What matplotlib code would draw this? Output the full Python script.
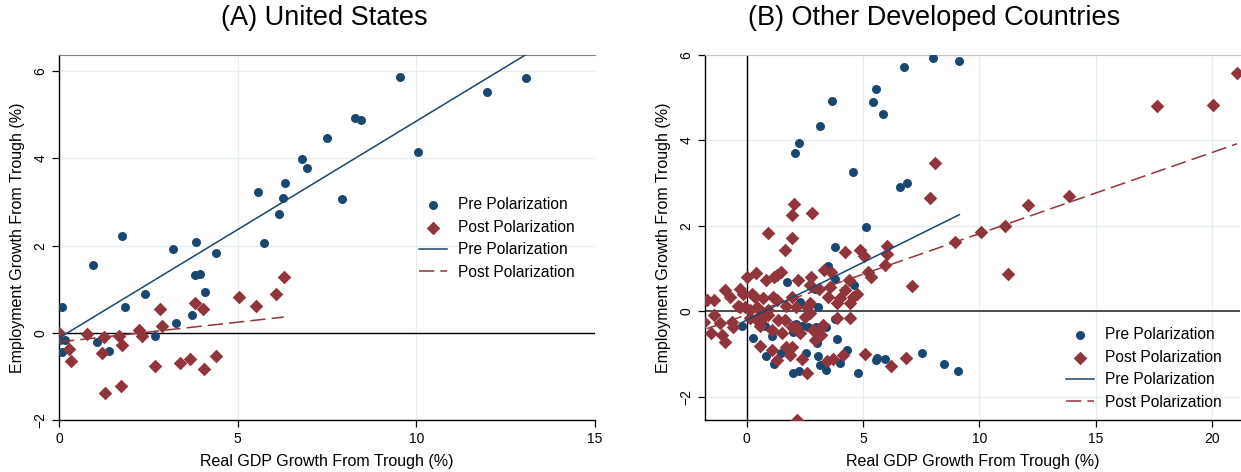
import numpy as np
import matplotlib
matplotlib.use("Agg")
import matplotlib.pyplot as plt

plt.rcParams['font.family'] = ['Liberation Sans', 'DejaVu Sans']

# ========== data ==========
# (A) United States
us_pre_x = [0.08, 0.02, 0.18, 0.08, 0.94, 1.05, 1.40, 1.76, 1.84, 2.42, 2.69, 3.18, 3.28,
            3.71, 3.82, 3.80, 3.95, 4.09, 4.39, 5.56, 5.74, 6.16, 6.27, 6.32, 6.80, 6.95,
            7.49, 7.91, 8.29, 8.46, 9.54, 10.05, 11.97, 13.07]
us_pre_y = [0.58, -0.17, -0.17, -0.44, 1.55, -0.22, -0.41, 2.23, 0.60, 0.90, -0.08, 1.92, 0.23,
            0.40, 2.08, 1.33, 1.35, 0.93, 1.84, 3.23, 2.07, 2.73, 3.08, 3.43, 3.98, 3.79,
            4.46, 3.06, 4.93, 4.88, 5.86, 4.14, 5.52, 5.85]
us_post_x = [0.0, 0.28, 0.33, 0.77, 1.19, 1.26, 1.30, 1.69, 1.75, 1.74, 2.24, 2.31, 2.69,
             2.84, 2.88, 3.39, 3.66, 3.80, 4.02, 4.05, 4.40, 5.03, 5.52, 6.07, 6.29]
us_post_y = [0.0, -0.37, -0.65, -0.03, -0.46, -0.10, -1.38, -0.08, -0.27, -1.22, 0.07, -0.07, -0.76,
             0.54, 0.15, -0.69, -0.61, 0.69, 0.54, -0.84, -0.53, 0.83, 0.61, 0.89, 1.28]
us_pre_fit_x = [0.0, 13.07]
us_pre_fit_y = [-0.12, 6.38]
us_post_fit_x = [0.0, 6.29]
us_post_fit_y = [-0.21, 0.36]

# (B) Other Developed Countries
oc_pre_x = [8.0, 6.74, 5.54, 5.44, 3.67, 5.88, 3.17, 2.26, 2.07, 4.56, 6.91, 6.61, 5.11,
            3.81, 3.50, 3.78, 4.63, 1.74, 3.07, 2.28, 2.93, -0.19, 0.26, 0.78, 1.10, 0.84,
            1.16, 1.48, 2.00, 1.93, 2.00, 2.24, 2.57, 2.37, 2.64, 3.04, 3.07, 3.14, 3.40,
            3.43, 3.88, 4.00, 4.31, 4.80, 5.57, 5.62, 5.94, 7.54, 8.46, 9.14, 9.07, 2.14,
            3.78, 3.00, 1.86]
oc_pre_y = [5.94, 5.71, 5.20, 4.91, 4.92, 4.61, 4.33, 3.93, 3.70, 3.26, 3.00, 2.90, 1.97,
            1.51, 1.06, 0.76, 0.61, 0.68, 0.10, 0.21, 0.53, -0.34, -0.62, -0.35, -0.58, -1.04,
            -1.23, -0.97, -0.48, -0.34, -1.44, -1.41, -0.99, -0.34, -0.37, -0.74, -1.04, -1.26, -0.37,
            -1.37, -0.66, -1.21, -0.91, -1.44, -1.15, -1.10, -1.11, -0.97, -1.24, 5.86, -1.40, -0.29,
            -0.19, -0.37, -1.03]
oc_post_x = [8.10, 7.90, 2.04, 1.93, 2.81, 0.93, 1.95, 1.64, 4.24, 4.86, 5.03, 6.03, 6.04,
             5.96, 7.11, 3.31, 3.64, 5.21, 5.36, 4.38, 3.57, 2.77, 2.74, 2.21, 0.40, 0.00,
             0.83, 1.18, 1.46, 1.29, -0.93, -1.71, -1.40, -0.72, -0.29, -0.14, 0.21, 0.36,
             0.71, 1.14, 1.29, -0.36, -0.07, 0.14, 0.43, 0.64, 0.93, 1.68, 1.97, 2.14, 2.60,
             2.71, 3.11, 3.50, 3.90, 4.00, 4.21, 4.43, 4.57, 4.74, -1.82, -1.54, -1.40, -1.14,
             -1.07, -0.93, -0.64, -0.57, -0.29, 0.14, 0.40, 0.59, 0.57, 0.71, 0.93, 1.11, 1.11,
             1.29, 1.36, 1.54, 1.64, 1.71, 1.86, 1.97, 1.94, 2.11, 2.28, 2.36, 2.61, 2.50,
             2.71, 2.83, 2.93, 3.07, 3.21, 3.28, 3.47, 3.71, 3.90, 4.14, 4.46, 5.07, 6.21,
             6.86, 2.17, 17.64, 20.03, 21.07, 13.86, 12.11, 11.11, 10.07, 8.96, 11.24]
oc_post_y = [3.46, 2.65, 2.51, 2.26, 2.29, 1.84, 1.72, 1.44, 1.39, 1.44, 1.29, 1.53, 1.33,
             1.07, 0.59, 0.96, 0.91, 0.91, 0.79, 0.74, 0.57, 0.79, 0.61, 0.73, 0.90, 0.80,
             0.73, 0.79, 0.92, 0.84, 0.49, 0.27, 0.26, 0.33, 0.51, 0.39, 0.40, 0.32,
             0.30, 0.33, 0.27, 0.12, 0.10, 0.02, 0.10, -0.02, 0.02, 0.12, 0.33, 0.10, 0.10,
             0.18, 0.51, 0.33, 0.19, 0.30, 0.49, 0.18, 0.33, 0.41, -0.25, -0.51, -0.09, -0.27,
             -0.56, -0.72, -0.25, -0.37, 0.10, -0.17, -0.19, -0.35, -0.81, -0.17, -0.09, -0.44, -0.91,
             -1.15, -0.21, -0.52, -0.21, -0.84, -1.03, -0.85, -0.37, -0.37, -0.52, -1.11, -1.44, -0.13,
             -0.05, -0.44, -0.68, -0.48, -0.56, -0.33, -1.17, -1.11, -0.16, -1.03, -0.16, -1.01, -1.28,
             -1.09, -2.55, 4.81, 4.82, 5.57, 2.69, 2.49, 1.99, 1.86, 1.62, 0.87]
oc_pre_fit_x = [-0.29, 9.14]
oc_pre_fit_y = [-0.29, 2.26]
oc_post_fit_x = [-1.71, 21.07]
oc_post_fit_y = [-0.41, 3.92]

titles = ['(A) United States', '(B) Other Developed Countries']
xlabel = 'Real GDP Growth From Trough (%)'
ylabel = 'Employment Growth From Trough (%)'

# ========== style ==========
NAVY = '#1a476f'
MAROON = '#90353b'
GRID = '#e6eef0'
LEG = dict(frameon=False, fontsize=11.2, handlelength=1.8, handletextpad=0.7,
           labelspacing=0.48, loc='upper left')


def draw_panel(ax, pre_x, pre_y, post_x, post_y, pre_fit, post_fit):
    ax.scatter(pre_x, pre_y, s=42, marker='o', color=NAVY, linewidths=0,
               label='Pre Polarization', zorder=3)
    ax.scatter(post_x, post_y, s=48, marker='D', color=MAROON, linewidths=0,
               label='Post Polarization', zorder=4)
    ax.plot(pre_fit[0], pre_fit[1], color=NAVY, lw=1.1, label='Pre Polarization', zorder=5)
    ax.plot(post_fit[0], post_fit[1], color=MAROON, lw=1.1, dashes=(10, 4),
            label='Post Polarization', zorder=5)
    ax.grid(True, color=GRID, lw=0.9, zorder=0)
    ax.set_axisbelow(True)
    ax.spines['right'].set_visible(False)
    for side in ('left', 'bottom'):
        ax.spines[side].set_color('black')
        ax.spines[side].set_linewidth(1.0)
    ax.tick_params(direction='out', length=5, width=0.9, labelsize=10)
    ax.set_xlabel(xlabel, fontsize=11.5, labelpad=6)
    ax.set_ylabel(ylabel, fontsize=11.5, labelpad=6)


fig = plt.figure(figsize=(12.41, 4.72), dpi=100)

# ---- (A) United States ----
ax1 = fig.add_axes([59 / 1241, 1 - 420 / 472, (595 - 59) / 1241, (420 - 55) / 472])
draw_panel(ax1, us_pre_x, us_pre_y, us_post_x, us_post_y,
           (us_pre_fit_x, us_pre_fit_y), (us_post_fit_x, us_post_fit_y))
ax1.axhline(0, color='black', lw=1.0, zorder=1)
ax1.set_xlim(0, 15)
ax1.set_ylim(-2, 6.37)
ax1.set_xticks([0, 5, 10, 15])
ax1.set_yticks([-2, 0, 2, 4, 6])
plt.setp(ax1.get_yticklabels(), rotation=90, va='center')
ax1.spines['top'].set_color('#808080')
ax1.legend(bbox_to_anchor=(0.660, 0.627), borderaxespad=0, **LEG)

# ---- (B) Other Developed Countries ----
ax2 = fig.add_axes([705 / 1241, 1 - 420 / 472, (1240 - 705) / 1241, (420 - 55) / 472])
draw_panel(ax2, oc_pre_x, oc_pre_y, oc_post_x, oc_post_y,
           (oc_pre_fit_x, oc_pre_fit_y), (oc_post_fit_x, oc_post_fit_y))
ax2.axhline(0, color='#404040', lw=1.3, zorder=1)
ax2.axvline(0, color='black', lw=1.0, zorder=1)
ax2.set_xlim(-1.79, 21.2)
ax2.set_ylim(-2.55, 6)
ax2.set_xticks([0, 5, 10, 15, 20])
ax2.set_yticks([-2, 0, 2, 4, 6])
plt.setp(ax2.get_yticklabels(), rotation=90, va='center')
ax2.spines['top'].set_color('#c4c8c8')
ax2.legend(bbox_to_anchor=(0.664, 0.271), borderaxespad=0, **LEG)

fig.text(324 / 1241, 1 - 18 / 472, titles[0], fontsize=19.5, ha='center', va='center')
fig.text(934 / 1241, 1 - 18 / 472, titles[1], fontsize=19.5, ha='center', va='center')

fig.savefig('out.png', dpi=100)
